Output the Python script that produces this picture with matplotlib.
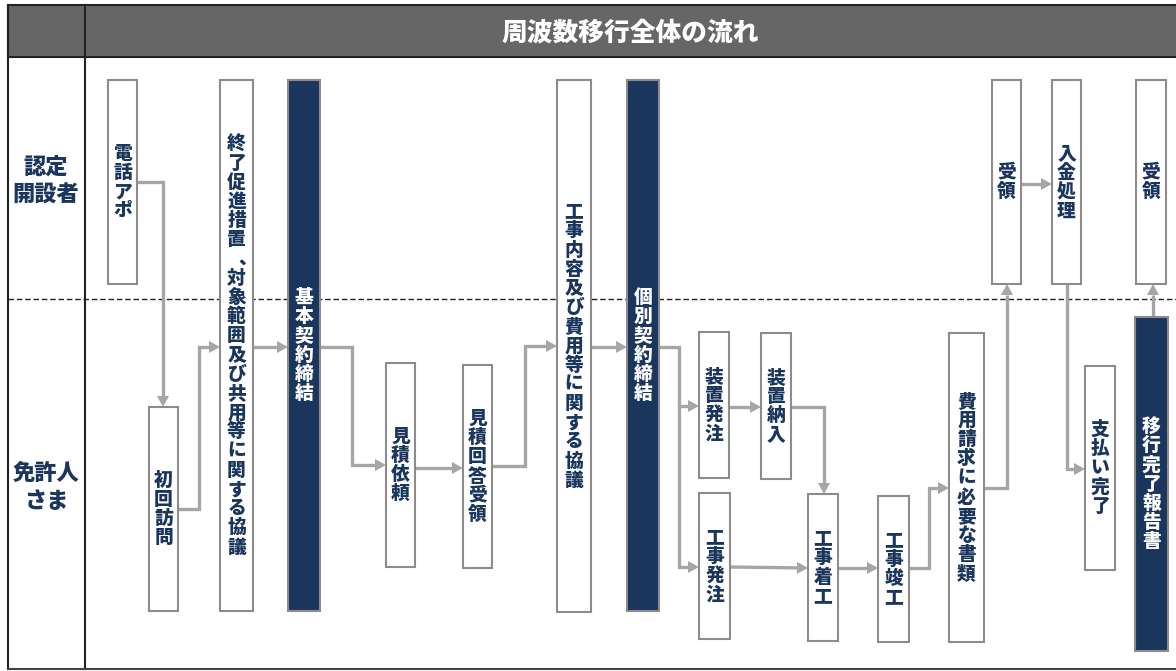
import matplotlib
matplotlib.use("Agg")
import matplotlib.pyplot as plt
from matplotlib.patches import Rectangle, Polygon

plt.rcParams['font.family'] = ['Noto Sans CJK JP', 'DejaVu Sans']

# ---------------- data ----------------
title = "周波数移行全体の流れ"
lane_labels = [["認定", "開設者"], ["免許人", "さま"]]

step_labels = [
    "電話アポ", "初回訪問", "終了促進措置、対象範囲及び共用等に関する協議", "基本契約締結",
    "見積依頼", "見積回答受領", "工事内容及び費用等に関する協議", "個別契約締結",
    "装置発注", "工事発注", "装置納入", "工事着工", "工事竣工", "費用請求に必要な書類",
    "受領", "入金処理", "支払い完了", "受領", "移行完了報告書",
]
step_highlight = [False, False, False, True,
                  False, False, False, True,
                  False, False, False, False, False, False,
                  False, False, False, False, True]

# flow connections (from step index, to step index)
flows = [(0, 1), (1, 2), (2, 3), (3, 4), (4, 5), (5, 6), (6, 7), (7, 8), (7, 9),
         (8, 10), (10, 11), (9, 11), (11, 12), (12, 13), (13, 14), (14, 15),
         (15, 16), (18, 17)]

# ---------------- layout (pixel coordinates) ----------------
W, H = 1176, 671
box_rects = [  # x0, x1, y0, y1
    (108, 137, 80, 284), (149, 178, 407, 611), (220, 253, 80, 611), (288, 320, 80, 611),
    (386, 415, 363, 567), (463, 492, 365, 568), (557, 591, 80, 612), (627, 659, 80, 611),
    (699, 729, 332, 478), (699, 730, 493, 639), (761, 791, 333, 479), (808, 838, 494, 641),
    (878, 909, 496, 642), (949, 984, 333, 642),
    (992, 1021, 80, 284), (1052, 1081, 80, 284), (1085, 1115, 366, 570),
    (1136, 1166, 80, 284), (1135, 1168, 317, 651),
]
flow_paths = [
    [(137, 182), (163, 182), (163, 407)],
    [(178, 509), (199, 509), (199, 347), (220, 347)],
    [(253, 347), (288, 347)],
    [(320, 347), (352, 347), (352, 465), (386, 465)],
    [(415, 468), (463, 468)],
    [(492, 466), (525, 466), (525, 346), (557, 346)],
    [(591, 347), (627, 347)],
    [(659, 347), (679, 347), (679, 406), (699, 406)],
    [(679, 406), (679, 567), (699, 567)],
    [(729, 407), (761, 407)],
    [(791, 407), (824, 407), (824, 494)],
    [(730, 567), (808, 568)],
    [(838, 568), (878, 568)],
    [(909, 568), (929, 568), (929, 488), (949, 488)],
    [(984, 488), (1007, 488), (1007, 284)],
    [(1021, 184), (1052, 184)],
    [(1067, 284), (1067, 469), (1085, 469)],
    [(1153, 317), (1153, 284)],
]

NAVY = "#1b365d"
ARROW = "#a6a6a6"
BORDER = "#8c8c8c"
WEIGHT = 900

fig = plt.figure(figsize=(W / 100, H / 100), dpi=100)
ax = fig.add_axes([0, 0, 1, 1])
ax.set_xlim(0, W)
ax.set_ylim(H, 0)
ax.axis("off")

# frame and header
ax.add_patch(Rectangle((8, 5), W + 10 - 8, 52, facecolor="#666666", edgecolor="#222222", lw=1.5, zorder=1))
ax.plot([85, 85], [5, 669], color="#222222", lw=1.5, zorder=2)
ax.plot([8, 8], [5, 669], color="#222222", lw=1.5, zorder=2)
ax.plot([8, W], [669, 669], color="#444444", lw=1.5, zorder=2)
ax.plot([8, W], [299, 299], color="#222222", lw=1.0, ls=(0, (4, 2)), zorder=2)
ax.text((85 + W) / 2, 33, title, color="white", fontsize=18.5, fontweight=WEIGHT,
        ha="center", va="center", zorder=3)

# lane labels
lane_centers = [181, 487]
for (l1, l2), yc in zip(lane_labels, lane_centers):
    ax.text(46, yc - 14, l1, color=NAVY, fontsize=16, fontweight=WEIGHT, ha="center", va="center")
    ax.text(46, yc + 14, l2, color=NAVY, fontsize=16, fontweight=WEIGHT, ha="center", va="center")

# arrows (drawn below boxes)
def draw_path(pts):
    xs = [p[0] for p in pts]
    ys = [p[1] for p in pts]
    (x0, y0), (x1, y1) = pts[-2], pts[-1]
    dx, dy = x1 - x0, y1 - y0
    n = (dx ** 2 + dy ** 2) ** 0.5
    ux, uy = dx / n, dy / n
    hl, hw = 11, 6
    bx, by = x1 - ux * hl, y1 - uy * hl
    xs[-1], ys[-1] = bx, by
    ax.plot(xs, ys, color=ARROW, lw=2.4, solid_joinstyle="miter", solid_capstyle="butt", zorder=3)
    px, py = -uy, ux
    tri = [(x1, y1), (bx + px * hw, by + py * hw), (bx - px * hw, by - py * hw)]
    ax.add_patch(Polygon(tri, closed=True, facecolor=ARROW, edgecolor="none", zorder=3))

for (a, b), pts in zip(flows, flow_paths):
    draw_path(pts)

# boxes
PITCH = 19.2
FS = 13.5
for label, hl, (x0, x1, y0, y1) in zip(step_labels, step_highlight, box_rects):
    fc = NAVY if hl else "white"
    tc = "white" if hl else NAVY
    ax.add_patch(Rectangle((x0, y0), x1 - x0, y1 - y0, facecolor=fc, edgecolor=BORDER, lw=1.5, zorder=4))
    xc = (x0 + x1) / 2
    yc = (y0 + y1) / 2
    n = len(label)
    top = yc - PITCH * (n - 1) / 2
    for i, ch in enumerate(label):
        y = top + i * PITCH
        if ch == "、":
            # vertical-writing comma sits right of the column centre
            ax.text(xc + 11, y, ch, color=tc, fontsize=FS, fontweight=WEIGHT,
                    ha="center", va="center", zorder=5)
        else:
            ax.text(xc, y, ch, color=tc, fontsize=FS, fontweight=WEIGHT,
                    ha="center", va="center", zorder=5)

fig.savefig("out.png", dpi=100)
